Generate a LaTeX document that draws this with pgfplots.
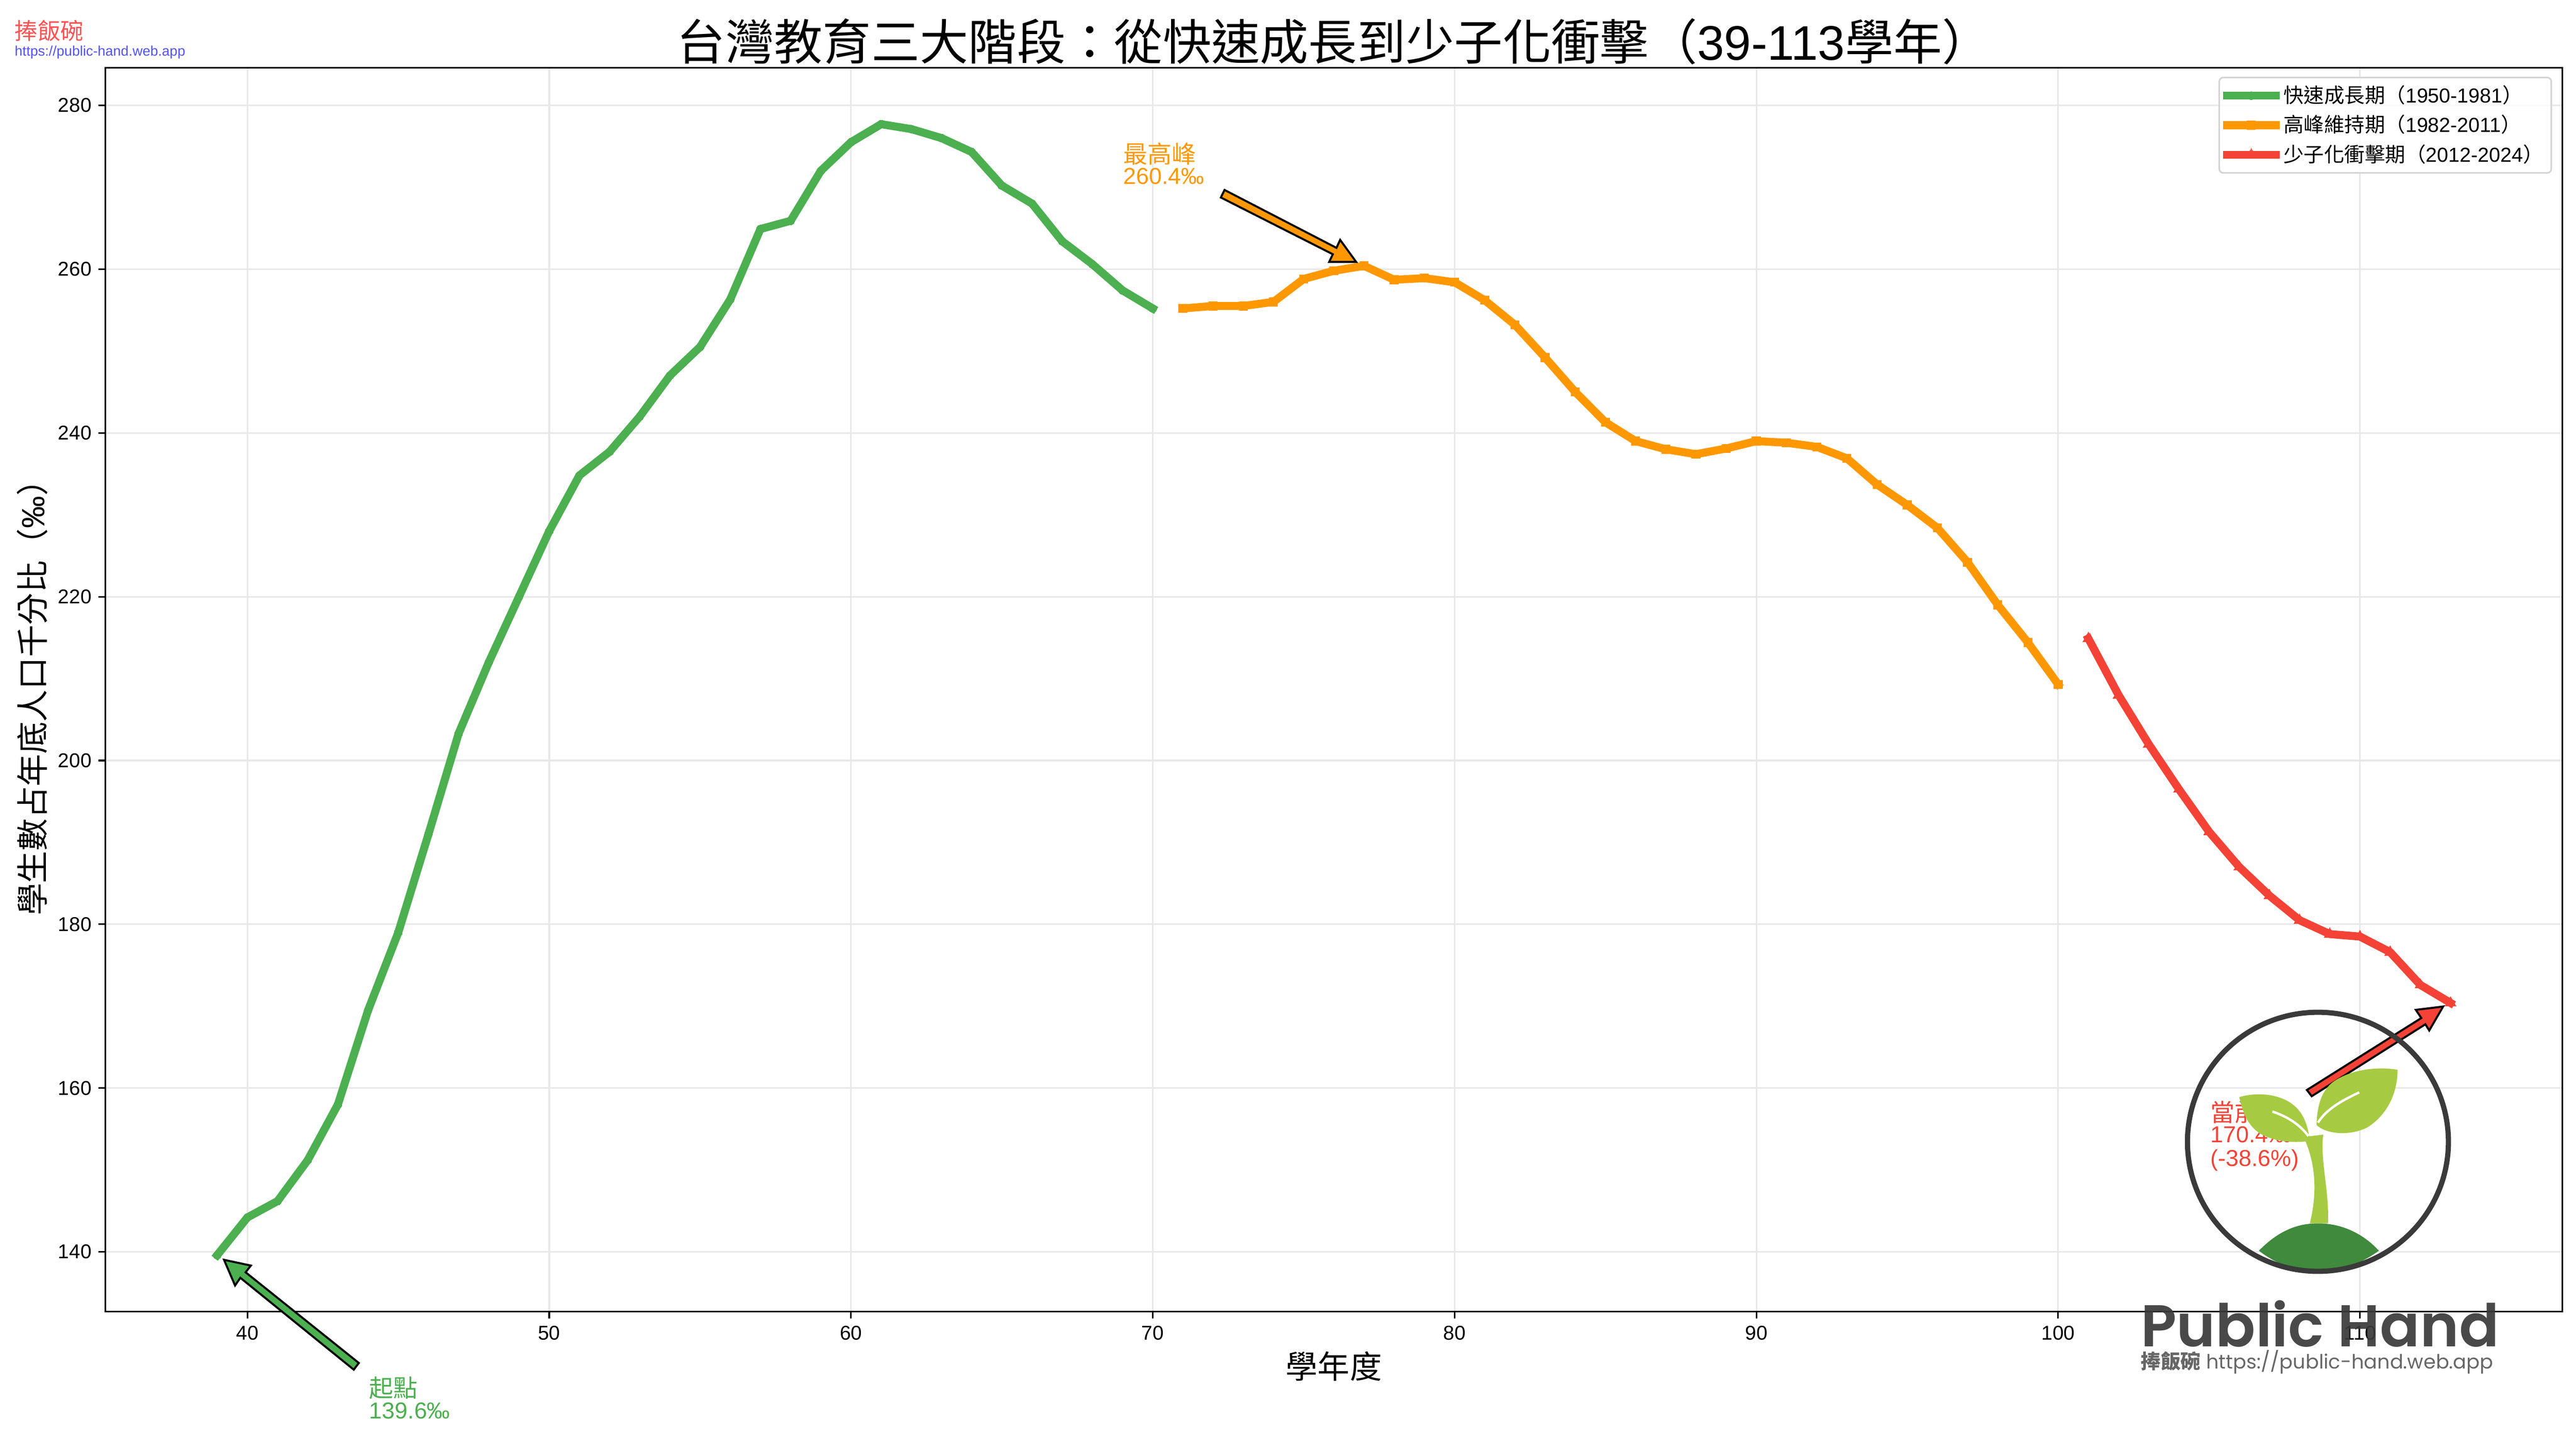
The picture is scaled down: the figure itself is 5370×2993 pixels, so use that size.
\documentclass[border=0pt]{standalone}
\usepackage{fontspec}
\usepackage{pgfplots}
\pgfplotsset{compat=1.18}
\setmainfont{Liberation Sans}
\newfontfamily\cjk{Noto Sans CJK TC}
\newfontfamily\pop[BoldFont={* SemiBold}]{Poppins}
\definecolor{cg}{HTML}{4CAF50}
\definecolor{co}{HTML}{FF9800}
\definecolor{cr}{HTML}{F44336}
\definecolor{leaf}{HTML}{A6CB42}
\definecolor{soil}{HTML}{3F8A3C}
\definecolor{ring}{HTML}{3A3A3A}
\begin{document}
\begin{tikzpicture}
\begin{scope}[x=0.24bp,y=-0.24bp,xshift=-52.8bp,yshift=656.16bp]
\useasboundingbox (0,0) rectangle (5370,2993);
\end{scope}
\begin{axis}[
  at={(0,0)},anchor=south west,
  scale only axis,width=1229.04bp,height=622.32bp,
  xmin=35.3,xmax=116.7,ymin=132.695,ymax=284.605,
  xtick={40,50,...,110},ytick={140,160,...,280},
  tick align=outside,tick pos=left,
  major tick length=3.5bp,
  tick style={black,line width=0.8bp},
  axis line style={line width=0.8bp},
  grid=major,grid style={color=black!9,line width=0.8bp},
  /pgf/number format/assume math mode=true,
  tick label style={font=\fontsize{10.04}{12}\selectfont},
  title={{\cjk 台灣教育三大階段：從快速成長到少子化衝擊（}39-113{\cjk 學年）}},
  title style={font=\fontsize{24.4}{29}\selectfont,at={(axis description cs:0.5,1)},anchor=base,yshift=-2.3bp,inner sep=0pt},
  xlabel={{\cjk 學年度}},
  xlabel style={font=\fontsize{16.06}{19}\selectfont,at={(axis description cs:0.5,0)},anchor=base,yshift=-33.4bp,inner sep=0pt},
  ylabel={{\cjk 學生數占年底人口千分比（}‰{\cjk ）}},
  ylabel style={font=\fontsize{16.2}{19}\selectfont,at={(axis description cs:-0.0248,0.5)},anchor=base,inner sep=0pt},
  legend style={at={(rel axis cs:0.9959,0.9927)},anchor=north east,draw=black!17,line width=0.8bp,rounded corners=2bp,fill=white,fill opacity=0.8,text opacity=1,font=\fontsize{10.2}{12}\selectfont,inner xsep=2bp,inner ysep=2bp,row sep=0.6bp},
  legend cell align=left,
  legend image code/.code={\draw[#1,mark repeat=2,mark phase=2] plot coordinates {(2bp,0bp)(12bp,0bp)(22bp,0bp)};\path (0bp,0bp)--(24.2bp,0bp);},
  every axis plot/.append style={line width=4bp,line cap=rect,line join=round},
]
\addplot[cg,mark=*,mark size=2bp,mark options={solid,line width=0pt}] coordinates {
(39,139.6)(40,144.2)(41,146.2)(42,151.2)(43,158)(44,169.5)(45,179)(46,191)(47,203.3)(48,212)
(49,220)(50,228)(51,234.8)(52,237.7)(53,242)(54,247)(55,250.5)(56,256.3)(57,264.9)(58,265.9)
(59,272)(60,275.5)(61,277.7)(62,277.1)(63,276)(64,274.3)(65,270.2)(66,268)(67,263.4)(68,260.6)
(69,257.4)(70,255.2)};
\addlegendentry{{\cjk 快速成長期（}1950-1981{\cjk ）}}
\addplot[co,mark=square*,mark size=2.1bp,mark options={solid,line width=0pt}] coordinates {
(71,255.2)(72,255.5)(73,255.5)(74,256)(75,258.8)(76,259.8)(77,260.4)(78,258.7)(79,258.9)(80,258.4)
(81,256.2)(82,253.2)(83,249.2)(84,245)(85,241.3)(86,239)(87,238)(88,237.4)(89,238.1)(90,239)
(91,238.8)(92,238.3)(93,236.9)(94,233.7)(95,231.2)(96,228.4)(97,224.2)(98,219)(99,214.4)(100,209.3)};
\addlegendentry{{\cjk 高峰維持期（}1982-2011{\cjk ）}}
\addplot[cr,mark=triangle*,mark size=3.2bp,mark options={solid,line width=0pt}] coordinates {
(101,214.9)(102,208)(103,202)(104,196.5)(105,191.3)(106,187)(107,183.5)(108,180.5)(109,178.8)(110,178.5)
(111,176.6)(112,172.6)(113,170.4)};
\addlegendentry{{\cjk 少子化衝擊期（}2012-2024{\cjk ）}}
\end{axis}
\begin{scope}[x=0.24bp,y=-0.24bp,xshift=-52.8bp,yshift=656.16bp]
% corner mark
\node[anchor=base west,inner sep=0pt,text=red!68,font=\fontsize{11.5}{14}\selectfont] at (30,82) {\cjk 捧飯碗};
\node[anchor=base west,inner sep=0pt,text=blue!68,font=\fontsize{7}{8}\selectfont] at (30,117) {https://public-hand.web.app};
% annotation arrows
\draw[fill=cg,line width=1bp,line join=miter] (467,2626)--(523,2638)--(512,2652)--(748,2841)--(737.5,2855)--(501,2663.5)--(490,2679.5)--cycle;
\draw[fill=co,line width=1bp,line join=miter] (2827,546)--(2770.8,546)--(2778.4,530)--(2545,411.7)--(2552.7,396)--(2786,516.7)--(2793.7,500)--cycle;
\draw[fill=cr,line width=1bp,line join=miter] (5093,2098)--(5064,2148)--(5056,2135)--(4819,2285)--(4809,2272)--(5047.5,2122)--(5036,2105)--cycle;
% annotation text
\begin{scope}[every node/.style={anchor=base west,inner sep=0pt,font=\fontsize{11.6}{13}\selectfont}]
\node[text=cg] at (769,2912) {\cjk\fontsize{12.2}{13}\selectfont 起點};
\node[text=cg] at (769,2957) {139.6‰};
\node[text=co] at (2341,340) {\cjk\fontsize{12.2}{13}\selectfont 最高峰};
\node[text=co] at (2341,384) {260.4‰};
\node[text=cr] at (4607,2338) {\cjk\fontsize{12.2}{13}\selectfont 當前};
\node[text=cr] at (4607,2382) {170.4‰};
\node[text=cr] at (4607,2431) {(-38.6\%)};
\end{scope}
% logo
\fill[soil] (4709,2607) .. controls (4750,2565) and (4790,2550) .. (4832,2550) .. controls (4880,2550) and (4925,2570) .. (4959,2607) .. controls (4920,2635) and (4880,2650) .. (4832,2650) .. controls (4785,2650) and (4745,2635) .. (4709,2607) -- cycle;
\fill[leaf] (4843,2365) .. controls (4836,2417) and (4856,2483) .. (4853,2550) -- (4815,2550) .. controls (4832,2483) and (4826,2420) .. (4802,2370) -- cycle;
\fill[leaf] (4668,2287) .. controls (4710,2274) and (4764,2282) .. (4790,2312) .. controls (4806,2330) and (4813,2355) .. (4814,2378) .. controls (4780,2384) and (4735,2378) .. (4710,2362) .. controls (4685,2345) and (4675,2318) .. (4668,2287) -- cycle;
\fill[leaf] (4998,2230) .. controls (4955,2222) and (4895,2230) .. (4860,2258) .. controls (4835,2280) and (4830,2315) .. (4829,2345) .. controls (4850,2365) and (4900,2368) .. (4935,2350) .. controls (4975,2325) and (4998,2280) .. (4998,2230) -- cycle;
\draw[white,line width=1.2bp] (4737,2317) .. controls (4770,2328) and (4795,2345) .. (4812,2368);
\draw[white,line width=1.2bp] (4832,2340) .. controls (4850,2312) and (4880,2295) .. (4918,2277);
\draw[ring,line width=2.6bp] (4832,2380) ellipse [x radius=272,y radius=270];
\node[anchor=base west,inner sep=0pt,text=ring,opacity=0.92,font=\fontsize{29.6}{30}\pop\bfseries\selectfont] at (4462,2807) {Public Hand};
\node[anchor=base west,inner sep=0pt,text=ring!85,opacity=0.9,font=\fontsize{10}{12}\selectfont] at (4462,2853) {{\cjk\bfseries 捧飯碗} {\pop\fontsize{9.9}{12}\selectfont https://public-hand.web.app}};
\end{scope}
\end{tikzpicture}
\end{document}
